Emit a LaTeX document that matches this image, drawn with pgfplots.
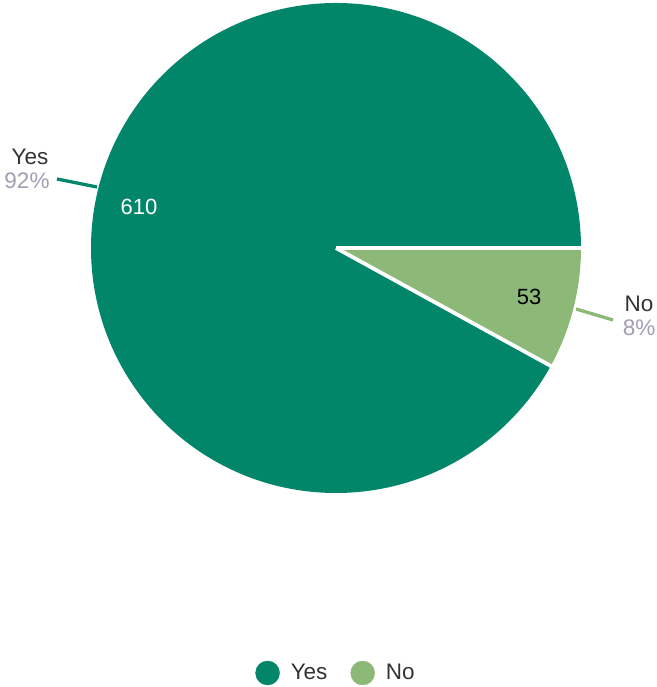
\documentclass[border=0pt]{standalone}
\usepackage{pgfplots}
\pgfplotsset{compat=1.18}
\usepackage{pgfplotstable}
\usepackage{fontspec}
\setmainfont{Liberation Sans}
\definecolor{yescol}{HTML}{02866A}
\definecolor{nocol}{HTML}{8DB978}
\definecolor{pctgray}{HTML}{A09EB4}
\definecolor{labcol}{HTML}{333333}
\pgfplotstableread{
label value
Yes 610
No 53
}\piedata
\begin{document}%
\begin{tikzpicture}
\pgfplotstablegetelem{0}{value}\of\piedata \let\vyes\pgfplotsretval
\pgfplotstablegetelem{1}{value}\of\piedata \let\vno\pgfplotsretval
\pgfmathsetmacro\total{\vyes+\vno}
\pgfmathsetmacro\ayes{360*(\vyes/\total)}
\pgfmathsetmacro\ano{360*(\vno/\total)}
\begin{axis}[x=1pt,y=1pt,xmin=0,xmax=656,ymin=0,ymax=687,hide axis,scale only axis,clip=false,
  legend style={at={(axis cs:336,14)},anchor=center,draw=none,fill=none,legend columns=2,
    font=\fontsize{22.5}{24}\selectfont,text=labcol,inner sep=0pt,
    /tikz/every odd column/.append style={column sep=9pt},
    /tikz/every even column/.append style={column sep=21pt}},
  legend cell align=left]
\addlegendimage{legend image code/.code={\fill[yescol] (0pt,0pt) circle (12pt);}}
\addlegendentry{Yes}
\addlegendimage{legend image code/.code={\fill[nocol] (0pt,0pt) circle (12pt);}}
\addlegendentry{No}
\fill[yescol] (axis cs:336,439) -- ++(0:245pt) arc[start angle=0,end angle=\ayes,radius=245pt] -- cycle;
\fill[nocol] (axis cs:336,439) -- ++(-\ano:245pt) arc[start angle=-\ano,end angle=0,radius=245pt] -- cycle;
\draw[white,line width=3.8pt] (axis cs:336,439) -- ++(0:247pt);
\draw[white,line width=3.8pt] (axis cs:336,439) -- ++(-\ano:247pt);
\draw[yescol,line width=3.3pt] (axis cs:57,508) -- (axis cs:97,500);
\draw[nocol,line width=3.3pt] (axis cs:576,378) -- (axis cs:613,367);
\node[text=labcol,font=\fontsize{22.5}{24}\selectfont] at (axis cs:30,530) {Yes};
\node[text=pctgray,font=\fontsize{22.5}{24}\selectfont] at (axis cs:27,506) {92\%};
\node[text=white,font=\fontsize{22}{24}\selectfont] at (axis cs:139,480) {610};
\node[text=black,font=\fontsize{22}{24}\selectfont] at (axis cs:529,390) {53};
\node[text=labcol,font=\fontsize{22.5}{24}\selectfont] at (axis cs:639,383) {No};
\node[text=pctgray,font=\fontsize{22.5}{24}\selectfont] at (axis cs:639,359) {8\%};
\end{axis}
\pgfresetboundingbox
\path (0,0) rectangle (656pt,687pt);
\end{tikzpicture}%
\end{document}
